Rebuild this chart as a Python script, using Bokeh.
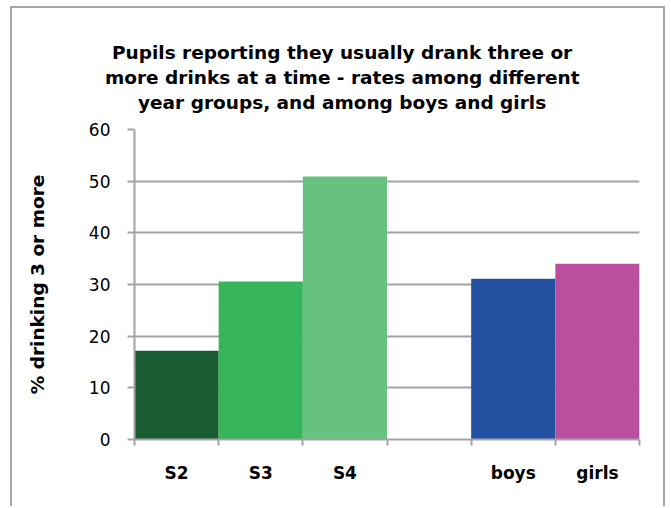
from bokeh.plotting import figure
from bokeh.models import ColumnDataSource, FixedTicker, Range1d, Title
from bokeh.embed import file_html
from bokeh.resources import INLINE

# ---- data ----
slots = ["S2", "S3", "S4", "", "boys", "girls"]
categories = ["S2", "S3", "S4", "boys", "girls"]
values = [17.2, 30.6, 50.9, 31.1, 34.0]
colors = ["#1a5c31", "#37b55d", "#67c280", "#2450a2", "#b94f9e"]
y_ticks = [0, 10, 20, 30, 40, 50, 60]
title_lines = ["Pupils reporting they usually drank three or",
               "more drinks at a time - rates among different",
               "year groups, and among boys and girls"]
y_label = "% drinking 3 or more"

FONT = "DejaVu Sans"
GRID = "#a3a3a3"

# horizontal shift of each title line from the plot-frame's left edge (layout only)
title_offsets = [-22.5, -29.5, 3.5]

xpos = [slots.index(c) + 0.5 for c in categories]
src = ColumnDataSource(dict(x=xpos, top=values, color=colors, cat=categories))

p = figure(width=655, height=500, output_backend="svg", toolbar_location=None,
           x_range=Range1d(0, len(slots)), y_range=Range1d(0, 60),
           min_border_left=122, min_border_right=28, min_border_top=121,
           min_border_bottom=69)
p.title = None
p.styles = {"border-left": "2px solid #a6a6a6", "border-top": "2px solid #a6a6a6",
            "border-right": "2px solid #a6a6a6", "margin-left": "10px",
            "margin-top": "6px"}

# spacer between title block and plot area
p.add_layout(Title(text=" ", text_font_size="10px", standoff=2.5), "above")
for line, off in reversed(list(zip(title_lines, title_offsets))):
    p.add_layout(Title(text=line, align="left", offset=off, text_font=FONT,
                       text_font_size="18.5px", text_font_style="bold",
                       text_color="#000000", standoff=1.7), "above")

p.vbar(x="x", top="top", width=1.0, bottom=0, color="color", line_color=None, source=src)

p.outline_line_color = None
p.background_fill_color = "white"
p.border_fill_color = "white"

xa = p.xaxis[0]
xa.ticker = FixedTicker(ticks=[slots.index(c) + 0.5 for c in categories],
                        minor_ticks=list(range(len(slots) + 1)))
xa.major_label_overrides = {slots.index(c) + 0.5: c for c in categories}
xa.major_tick_out = 0
xa.major_tick_in = 0
xa.major_tick_line_color = None
xa.minor_tick_out = 6
xa.minor_tick_in = 0
xa.minor_tick_line_color = GRID
xa.minor_tick_line_width = 2
xa.axis_line_color = GRID
xa.axis_line_width = 2
xa.major_label_text_font = FONT
xa.major_label_text_font_size = "17px"
xa.major_label_text_font_style = "bold"
xa.major_label_text_color = "#000000"
xa.major_label_standoff = 17

ya = p.yaxis[0]
ya.ticker = FixedTicker(ticks=y_ticks)
ya.minor_tick_line_color = None
ya.major_tick_out = 7
ya.major_tick_in = 0
ya.major_tick_line_color = GRID
ya.major_tick_line_width = 2
ya.axis_line_color = GRID
ya.axis_line_width = 2
ya.major_label_text_font = FONT
ya.major_label_text_font_size = "17px"
ya.major_label_text_color = "#000000"
ya.major_label_standoff = 17
ya.axis_label = y_label
ya.axis_label_text_font = FONT
ya.axis_label_text_font_size = "18.5px"
ya.axis_label_text_font_style = "bold"
ya.axis_label_text_color = "#000000"
ya.axis_label_standoff = 38

p.xgrid.grid_line_color = None
p.ygrid.ticker = FixedTicker(ticks=y_ticks)
p.ygrid.grid_line_color = GRID
p.ygrid.grid_line_width = 2

open("out.html", "w").write(file_html(p, INLINE))
